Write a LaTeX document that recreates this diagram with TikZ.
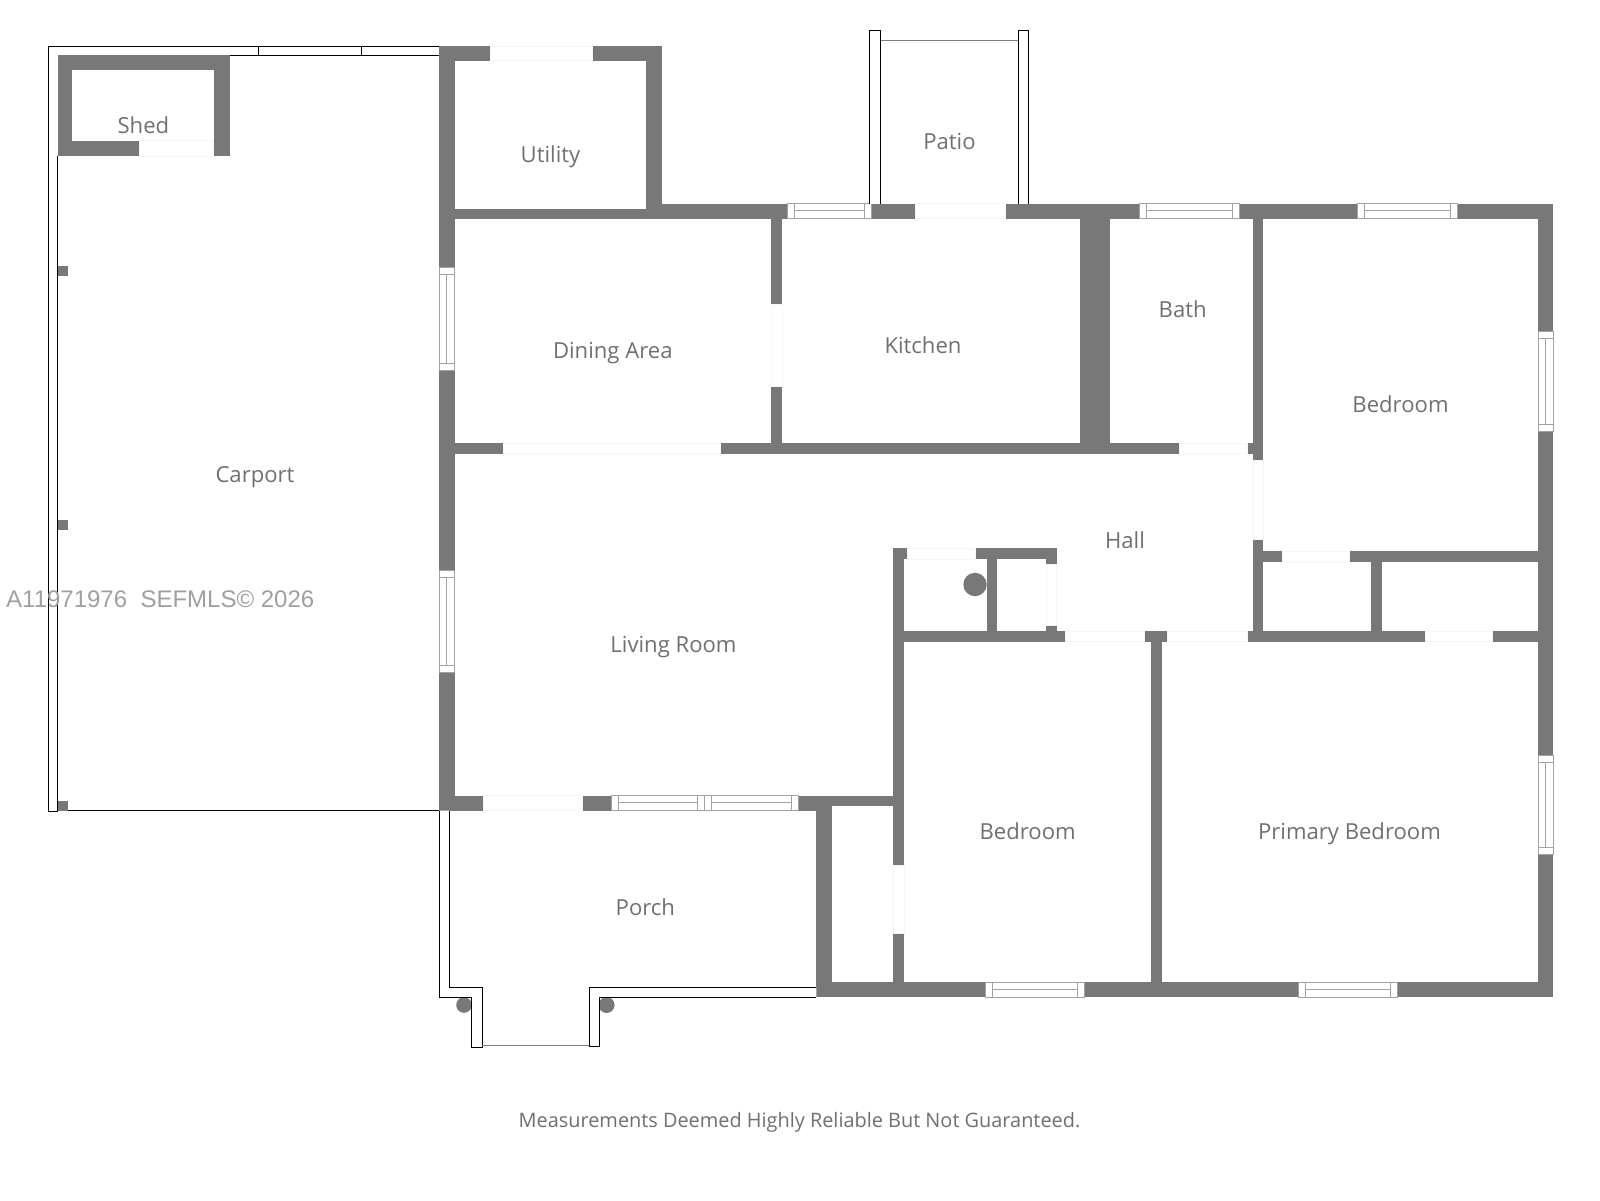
\documentclass[tikz,border=0pt]{standalone}
\usepackage{fontspec}
\setmainfont{Open Sans}
\newfontfamily\markfont{Liberation Sans}
\definecolor{wallgray}{HTML}{787878}
\definecolor{labelgray}{HTML}{707070}
\definecolor{glassgray}{HTML}{A2A2A2}
\definecolor{gapgray}{HTML}{F6F6F6}
\definecolor{markgray}{HTML}{A0A0A0}
\tikzset{
  wall/.style={fill=wallgray},
  doorgap/.style={fill=white, draw=gapgray, line width=.6pt},
  glass/.style={fill=white, draw=glassgray, line width=1pt},
  rail/.style={fill=white, draw=black, line width=1pt},
  thinrail/.style={draw=#1, line width=1pt},
  room/.style={text=labelgray, anchor=base, inner sep=0pt, font=\fontsize{22.1}{26}\selectfont},
}
\newcommand{\hwin}[3]{% x1, x2, y1 (fixed depth)
  \draw[glass] (#1,#3) rectangle (#2,#3+14.6);
  \draw[glass] (#1+7,#3) -- (#1+7,#3+14.6) (#2-7,#3) -- (#2-7,#3+14.6) (#1+7,#3+7.3) -- (#2-7,#3+7.3);
}
\newcommand{\vwin}[3]{% y1, y2, x1
  \draw[glass] (#3,#1) rectangle (#3+15,#2);
  \draw[glass] (#3,#1+7) -- (#3+15,#1+7) (#3,#2-7) -- (#3+15,#2-7) (#3+7.5,#1+7) -- (#3+7.5,#2-7);
}
\begin{document}
\begin{tikzpicture}[x=1pt,y=-1pt]
\useasboundingbox (0,0) rectangle (1600,1200);
\fill[white] (0,0) rectangle (1600,1200);

% carport outline
\draw[thinrail=black] (439,46) -- (48,46) -- (48,811.5) -- (57.6,811.5) -- (57.6,156);
\draw[thinrail=black] (230,55.5) -- (439,55.5) (258.7,46) -- (258.7,55.5) (361,46) -- (361,55.5);
\draw[thinrail=black] (57.6,810.5) -- (439.3,810.5);

% walls
\foreach \xa/\ya/\xb/\yb in {
  439.3/46/454.6/810.5, 439.3/46/661.7/60.5, 646.4/46/661.7/218.5, 454.6/208.6/661.7/218.5,
  646.4/203.6/1553/218.5, 1537.8/203.6/1553/997.2, 816.3/982/1553/997.2, 816.3/796/832.1/997.2,
  439.3/795.6/832.1/810.5, 816.3/796/893.4/806, 893.4/548.4/904.1/997, 893.4/548.4/1056.7/559,
  986.7/559/997.3/631, 1046.4/559/1056.7/631, 893.4/631/1553/641.5, 1151/641/1161.7/982,
  454.6/442.8/1253/453.5, 771.4/218/782.1/443, 1080.1/218/1110.2/453.5, 1253/218/1263.3/641,
  1263/551/1538/561.8, 1371.4/561.8/1381.6/631,
  57.6/54.7/230/70.4, 57.6/54.7/72.4/156, 214.3/54.7/230/156, 57.6/140.5/230/156,
  57.6/266/67.9/276, 57.6/519.7/67.9/530.4, 57.6/800.5/67.9/810.5}
  \fill[wall] (\xa,\ya) rectangle (\xb,\yb);

% openings
\foreach \xa/\ya/\xb/\yb in {
  139.3/140.5/213.3/156, 490.3/46/592.3/60.5, 914.8/203.6/1005.1/218.5, 771.4/304.2/782.1/385.8,
  503.6/442.8/720.4/453.5, 1179.1/442.8/1247/453.5, 483.7/795.6/582.6/810.5, 893.4/864.8/904.1/933,
  907/548.4/975/559, 1046.4/564/1056.7/625.7, 1064.8/631/1144.4/641.5, 1167.3/631/1247.4/641.5,
  1425/631/1492.3/641.5, 1253/460/1263.3/539.6, 1282.1/551/1349.5/561.8}
  \draw[doorgap] (\xa,\ya) rectangle (\xb,\yb);

% windows
\hwin{787.3}{871.7}{203.5}
\hwin{1139.8}{1239.3}{203.5}
\hwin{1357.7}{1457.1}{203.5}
\hwin{611}{704.3}{795.5}
\hwin{704.3}{798.3}{795.5}
\hwin{985.2}{1084.7}{982.5}
\hwin{1298.5}{1397.5}{982.5}
\vwin{267.3}{370}{439.4}
\vwin{570.2}{672}{439.4}
\vwin{331.8}{431}{1538}
\vwin{755.8}{854.5}{1538}

% columns and water heater
\fill[wall] (464,1005) circle (7.8);
\fill[wall] (606.6,1005) circle (8);
\fill[wall] (975,584.5) circle (11.7);

% porch and patio
\draw[rail] (439.3,810.5) -- (439.3,997.2) -- (471.9,997.2) -- (471.9,1047) -- (482.1,1047) -- (482.1,987.3) -- (449.5,987.3) -- (449.5,810.5);
\draw[rail] (816.3,987.3) -- (589.3,987.3) -- (589.3,1046) -- (599.3,1046) -- (599.3,997.2) -- (816.3,997.2);
\draw[rail] (869.9,203.6) -- (869.9,30.6) -- (880.6,30.6) -- (880.6,203.6);
\draw[rail] (1018.4,203.6) -- (1018.4,30.6) -- (1028.6,30.6) -- (1028.6,203.6);
\draw[thinrail=gray] (880.6,40.6) -- (1018.4,40.6) (482.1,1045.5) -- (589.3,1045.5);

% labels
\node[room] (shed) at (143.4,133.5) {Shed};
\node[room] (utility) at (550.5,162.2) {Utility};
\node[room] (dining) at (612.8,358.5) {Dining Area};
\node[room] (carport) at (255,482) {Carport};
\node[room] (patio) at (949.5,149.8) {Patio};
\node[room] (kitchen) at (923,353.8) {Kitchen};
\node[room] (bath) at (1182.7,317.5) {Bath};
\node[room] (bedroomeast) at (1400.5,412.8) {Bedroom};
\node[room] (hall) at (1125,548) {Hall};
\node[room] (living) at (673.5,652.4) {Living Room};
\node[room] (porch) at (645.4,915.3) {Porch};
\node[room] (bedroomsouth) at (1027.6,839.8) {Bedroom};
\node[room] (primary) at (1349.5,839.8) {Primary Bedroom};
\node[room, font=\fontsize{19.9}{24}\selectfont] (note) at (799.5,1127.2) {Measurements Deemed Highly Reliable But Not Guaranteed.};
\node[anchor=base west, inner sep=0pt, text=markgray, font=\markfont\fontsize{24}{28}\selectfont] (mlsmark) at (6,607.5) {A11971976\ \ SEFMLS© 2026};
\end{tikzpicture}
\end{document}
